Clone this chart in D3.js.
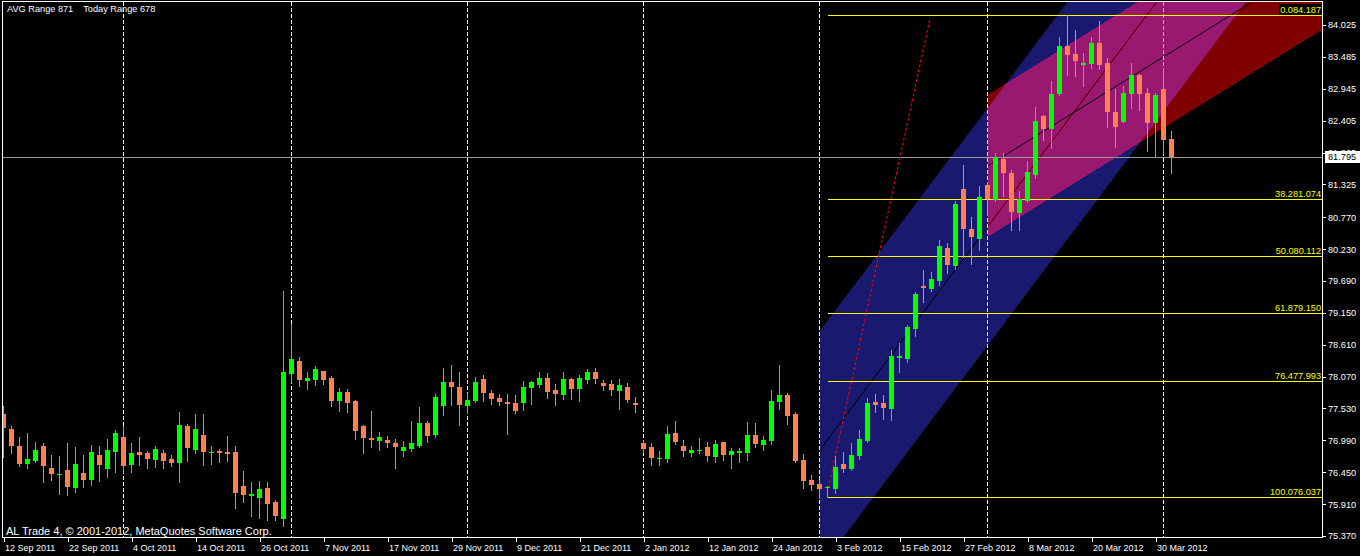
<!DOCTYPE html>
<html><head><meta charset="utf-8">
<script src="https://cdn.jsdelivr.net/npm/d3@7"></script>
<style>html,body{margin:0;padding:0;background:#000;overflow:hidden}svg{display:block}text{font-family:"Liberation Sans",Arial,sans-serif}</style>
</head><body>
<svg id="c" width="1360" height="556"></svg>
<script>
// ---- data (EURUSD-like daily candles) ----
const opens = [77.436,77.182,76.900,76.595,76.640,76.894,76.522,76.414,76.488,76.189,76.443,76.324,76.742,76.510,76.798,77.047,76.578,76.793,76.776,76.663,76.776,76.674,76.612,77.233,76.832,77.081,76.781,76.810,76.793,76.793,76.217,76.053,76.019,76.183,75.951,75.664,78.120,78.334,78.001,78.018,78.165,78.046,77.662,77.809,77.657,77.233,77.030,76.985,76.996,76.945,76.816,76.844,76.895,77.284,77.081,77.578,77.979,77.894,77.578,77.657,78.029,77.792,77.708,77.640,77.623,77.629,77.883,77.933,78.046,77.843,77.764,78.029,77.866,78.018,78.148,77.967,77.945,77.832,77.894,77.629,76.945,76.878,76.680,76.680,77.115,76.895,76.782,76.816,76.878,76.714,76.962,76.748,76.782,76.782,77.081,76.917,76.985,77.646,77.758,77.437,76.657,76.319,76.251,76.184,76.172,76.590,76.505,76.731,76.980,77.640,77.623,77.527,78.391,78.369,78.877,79.611,79.554,79.695,80.249,79.944,81.248,80.571,80.407,81.316,81.061,81.756,81.519,80.841,81.045,81.485,82.484,82.264,82.857,83.670,83.534,83.354,83.365,83.721,83.382,82.552,82.383,82.857,83.179,82.874,82.366,82.942,82.095];
const highs = [77.572,77.233,77.052,77.115,76.962,76.940,76.742,76.725,76.945,76.877,76.742,76.917,76.900,77.013,77.165,77.233,76.945,77.047,76.810,76.894,76.827,76.742,77.470,77.267,77.436,77.436,76.894,76.844,77.064,76.894,76.471,76.290,76.307,76.290,75.980,79.520,78.961,78.402,78.148,78.249,78.170,78.080,77.877,77.860,77.673,77.250,77.487,77.131,77.064,77.013,76.979,77.318,77.555,77.318,77.775,78.216,78.267,78.148,77.787,78.063,78.097,77.843,77.775,77.775,77.758,77.996,77.996,78.148,78.131,77.945,78.148,78.046,78.097,78.199,78.216,78.013,78.013,78.029,77.962,77.730,76.996,76.945,76.810,77.233,77.318,76.996,76.895,77.030,76.962,76.996,76.962,76.861,76.861,77.301,77.284,77.064,77.843,78.267,77.792,77.471,76.759,76.403,76.319,76.217,76.726,76.793,76.946,77.166,77.708,77.776,77.759,78.521,78.640,78.945,79.503,79.876,79.842,80.384,80.333,81.045,81.655,80.774,81.299,81.372,81.858,81.858,81.570,81.214,81.722,82.637,82.501,83.077,83.822,84.187,83.941,83.551,83.822,84.093,83.467,82.942,82.992,83.382,83.195,82.959,82.874,83.297,82.230];
const lows = [76.714,76.781,76.556,76.522,76.623,76.290,76.318,76.087,76.070,76.115,76.206,76.239,76.307,76.375,76.460,76.460,76.460,76.578,76.527,76.544,76.527,76.561,76.290,76.646,76.781,76.578,76.595,76.629,76.646,75.850,75.951,75.714,75.680,75.635,75.635,75.545,77.973,77.916,77.865,77.933,77.950,77.578,77.493,77.476,77.019,76.781,76.883,76.832,76.883,76.527,76.731,76.816,76.878,76.968,77.053,77.425,77.595,77.256,77.459,77.640,77.662,77.612,77.595,77.104,77.459,77.510,77.612,77.900,77.713,77.595,77.696,77.696,77.662,77.967,77.967,77.849,77.764,77.527,77.646,77.476,76.799,76.578,76.578,76.629,76.934,76.731,76.731,76.782,76.646,76.629,76.663,76.528,76.629,76.663,76.883,76.833,76.934,77.527,77.273,76.629,76.189,76.155,76.020,76.037,76.105,76.460,76.489,76.675,76.963,77.471,77.352,77.341,78.154,78.323,78.758,79.334,79.526,79.628,79.831,79.899,80.102,79.978,80.215,80.807,81.045,81.129,80.553,80.553,81.028,81.434,82.078,81.942,82.840,83.179,83.162,82.992,83.297,83.280,82.298,81.959,82.383,82.620,82.586,81.891,81.807,81.841,81.519];
const closes = [77.205,76.900,76.589,76.674,76.827,76.561,76.426,76.426,76.206,76.589,76.324,76.793,76.573,76.827,77.115,76.561,76.776,76.748,76.680,76.844,76.646,76.612,77.250,76.866,77.182,76.798,76.793,76.781,76.764,76.104,76.070,76.081,76.166,75.918,75.714,78.148,78.368,78.018,78.052,78.199,78.018,77.662,77.809,77.628,77.154,77.035,77.002,77.047,76.951,76.883,76.878,76.945,77.284,77.064,77.725,77.979,77.900,77.595,77.674,77.979,77.798,77.696,77.640,77.612,77.493,77.894,77.979,78.046,77.815,77.781,78.029,77.860,78.046,78.148,78.035,77.917,77.849,77.928,77.679,77.583,76.849,76.697,76.697,77.098,76.968,76.816,76.827,76.833,76.731,76.928,76.748,76.810,76.810,77.081,76.934,76.996,77.657,77.758,77.408,76.646,76.307,76.240,76.172,76.206,76.539,76.505,76.743,77.014,77.623,77.589,77.539,78.419,78.419,78.911,79.470,79.577,79.724,80.283,79.961,80.994,80.571,80.435,81.113,81.073,81.790,81.519,80.858,81.078,81.536,82.400,82.264,82.857,83.670,83.517,83.416,83.382,83.721,83.348,82.552,82.298,82.874,83.179,82.857,82.366,82.840,82.078,81.795];

const dateLabels = ["12 Sep 2011","22 Sep 2011","4 Oct 2011","14 Oct 2011","26 Oct 2011","7 Nov 2011","17 Nov 2011","29 Nov 2011","9 Dec 2011","21 Dec 2011","2 Jan 2012","12 Jan 2012","24 Jan 2012","3 Feb 2012","15 Feb 2012","27 Feb 2012","8 Mar 2012","20 Mar 2012","30 Mar 2012"];
const dateLabelIdx = [0,8,16,24,32,40,48,56,64,72,80,88,96,104,112,120,128,136,144];
const monthSepIdx = [15,36,58,80,102,123,145];
const yTicks = [84.025,83.485,82.945,82.405,81.865,81.325,80.770,80.230,79.690,79.150,78.610,78.070,77.530,76.990,76.450,75.910,75.370];

const fibLevels = ["0.0","38.2","50.0","61.8","76.4","100.0"];
const fibPrices = [84.187,81.074,80.112,79.150,77.993,76.037];
const fibStartIdx = 103;
const lastPrice = 81.795;

// channels: start bar, upper / lower price at start bar, price change per bar
const blueChannel = {start:102, upper:78.830, lower:74.811, step:0.1802};
const redChannel  = {start:123, upper:82.840, lower:80.434, step:0.0840};
// dotted trend line: two anchor (bar, price) points
const redRay = [[103, 76.11], [115.8, 84.13]];

const headerText = "AVG Range 871    Today Range 678";
const footerText = "AL Trade 4, \u00A9 2001-2012, MetaQuotes Software Corp.";

// ---- drawing ----
const W = 1360, H = 556;
const L = 2, R = 1322, T = 2, B = 538;
const svg = d3.select("#c");
const x = d3.scaleLinear().domain([0, 146]).range([3.5, 1171.5]);
const y = d3.scaleLinear().domain([75.37, 84.025]).range([536, 25]);

svg.append("rect").attr("width", W).attr("height", H).attr("fill", "#000");

const defs = svg.append("defs");
defs.append("clipPath").attr("id", "plot").append("rect")
  .attr("x", L + 1).attr("y", T).attr("width", R - L - 1).attr("height", B - T);

const END = 180;
function chanPoly(c) {
  const d = END - c.start;
  return [[x(c.start), y(c.upper)], [x(END), y(c.upper + c.step * d)],
          [x(END), y(c.lower + c.step * d)], [x(c.start), y(c.lower)]];
}
const bluePts = chanPoly(blueChannel), redPts = chanPoly(redChannel);
defs.append("clipPath").attr("id", "blueClip").append("polygon").attr("points", bluePts.join(" "));
defs.append("clipPath").attr("id", "redClip").append("polygon").attr("points", redPts.join(" "));

const plot = svg.append("g").attr("clip-path", "url(#plot)");
const fills = plot.append("g").attr("shape-rendering", "crispEdges");
fills.append("polygon").attr("points", bluePts.join(" ")).attr("fill", "#191970");
fills.append("polygon").attr("points", redPts.join(" ")).attr("fill", "#800000");
fills.append("g").attr("clip-path", "url(#blueClip)")
  .append("polygon").attr("points", redPts.join(" ")).attr("fill", "#991970");

// channel middle lines
function midLine(c) {
  const m = (c.upper + c.lower) / 2;
  return [[x(c.start), y(m)], [x(END), y(m + c.step * (END - c.start))]];
}
const bm = midLine(blueChannel), rm = midLine(redChannel);
plot.append("line").attr("x1", bm[0][0]).attr("y1", bm[0][1]).attr("x2", bm[1][0]).attr("y2", bm[1][1])
  .attr("stroke", "#000").attr("stroke-width", 1);
plot.append("g").attr("clip-path", "url(#redClip)").append("line")
  .attr("x1", bm[0][0]).attr("y1", bm[0][1]).attr("x2", bm[1][0]).attr("y2", bm[1][1])
  .attr("stroke", "#800000").attr("stroke-width", 1);
plot.append("line").attr("x1", rm[0][0]).attr("y1", rm[0][1]).attr("x2", rm[1][0]).attr("y2", rm[1][1])
  .attr("stroke", "#000").attr("stroke-width", 1);

// month separators (XOR-like)
plot.append("g").style("mix-blend-mode", "difference")
  .selectAll("line").data(monthSepIdx).join("line")
  .attr("x1", d => x(d)).attr("x2", d => x(d)).attr("y1", T).attr("y2", B)
  .attr("stroke", "#fff").attr("stroke-dasharray", "4,2").attr("shape-rendering", "crispEdges");

// fibonacci levels
const fibG = plot.append("g");
fibG.selectAll("line").data(fibPrices).join("line")
  .attr("x1", x(fibStartIdx)).attr("x2", R).attr("y1", d => Math.round(y(d)) + 0.5).attr("y2", d => Math.round(y(d)) + 0.5)
  .attr("stroke", "#ffff00").attr("shape-rendering", "crispEdges");

// last price line
plot.append("line").attr("x1", L).attr("x2", R)
  .attr("y1", Math.round(y(lastPrice)) + 0.5).attr("y2", Math.round(y(lastPrice)) + 0.5)
  .attr("stroke", "#9a9a9a").attr("shape-rendering", "crispEdges");

// dotted red trend line
plot.append("line")
  .attr("x1", x(redRay[0][0])).attr("y1", y(redRay[0][1]))
  .attr("x2", x(redRay[1][0])).attr("y2", y(redRay[1][1]))
  .attr("stroke", "#ff0000").attr("stroke-width", 1).attr("stroke-dasharray", "3,2");

// candles
const idx = d3.range(opens.length);
const cg = plot.append("g").attr("shape-rendering", "crispEdges");
const col = i => closes[i] > opens[i] ? "#00ff00" : "#ff7f50";
cg.selectAll("line").data(idx).join("line")
  .attr("x1", i => x(i)).attr("x2", i => x(i))
  .attr("y1", i => Math.round(y(highs[i]))).attr("y2", i => Math.round(y(lows[i])) + 1)
  .attr("stroke", col);
cg.selectAll("rect").data(idx).join("rect")
  .attr("x", i => x(i) - 2.5).attr("width", 5)
  .attr("y", i => Math.round(y(Math.max(opens[i], closes[i]))))
  .attr("height", i => Math.max(1, Math.round(y(Math.min(opens[i], closes[i]))) - Math.round(y(Math.max(opens[i], closes[i])))))
  .attr("fill", col);

// fib labels (with black backing)
const fibLab = svg.append("g");
fibPrices.forEach((p, k) => {
  const yy = Math.round(y(p));
  const g = fibLab.append("g");
  const bg = g.append("rect").attr("fill", "#000");
  const t = g.append("text").attr("x", R - 1).attr("y", yy - 2).attr("text-anchor", "end")
    .attr("font-size", "9.2px").attr("fill", "#ffff00").text(fibLevels[k] + p.toFixed(3));
  const w = t.node().getComputedTextLength();
  bg.attr("x", R - 2 - w).attr("y", yy - 11).attr("width", w + 2).attr("height", 11);
});

// frame
svg.append("rect").attr("x", L + 0.5).attr("y", T - 0.5).attr("width", R - L).attr("height", B - T)
  .attr("fill", "none").attr("stroke", "#fff").attr("shape-rendering", "crispEdges");

// y axis
const yAxis = d3.axisRight(y).tickValues(yTicks).tickFormat(d3.format(".3f")).tickSize(4).tickPadding(2);
const ya = svg.append("g").attr("transform", `translate(${R},0)`).call(yAxis);
ya.select(".domain").remove();
ya.selectAll("line").attr("stroke", "#fff").attr("shape-rendering", "crispEdges");
ya.selectAll("text").attr("fill", "#fff").attr("font-size", "9.2px").attr("font-family", null);

// last price box
const ly = Math.round(y(lastPrice));
svg.append("rect").attr("x", R + 3).attr("y", ly - 6).attr("width", W - R - 3).attr("height", 12).attr("fill", "#fff");
svg.append("text").attr("x", R + 6).attr("y", ly).attr("dy", "0.33em").attr("font-size", "9.2px")
  .attr("fill", "#000").text(lastPrice.toFixed(3));

// x axis
const xAxis = d3.axisBottom(x).tickValues(dateLabelIdx).tickFormat((d, k) => dateLabels[k]).tickSize(4).tickPadding(3);
const xa = svg.append("g").attr("transform", `translate(0,${B})`).call(xAxis);
xa.select(".domain").remove();
xa.selectAll("line").attr("stroke", "#fff").attr("shape-rendering", "crispEdges");
xa.selectAll("text").attr("fill", "#fff").attr("font-size", "9px").attr("font-family", null)
  .attr("text-anchor", "start").attr("x", 1);

// header / footer texts
svg.append("text").attr("x", 7).attr("y", 12).attr("font-size", "9.2px").attr("fill", "#fff")
  .style("white-space", "pre").text(headerText);
svg.append("text").attr("x", 6).attr("y", 535).attr("font-size", "11px").attr("fill", "#fff")
  .text(footerText);
</script>
</body></html>
